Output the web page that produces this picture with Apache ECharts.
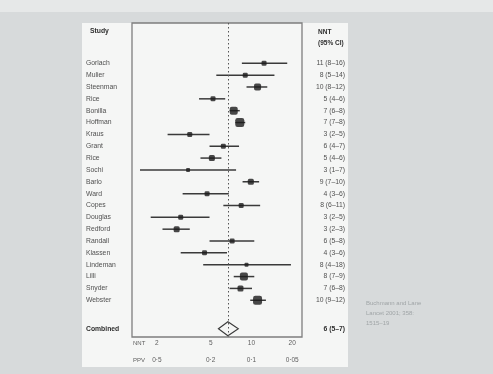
<!DOCTYPE html>
<html>
<head>
<meta charset="utf-8">
<script src="https://cdn.jsdelivr.net/npm/echarts@6/dist/echarts.min.js"></script>
<style>
    html, body { margin: 0; padding: 0; background: #d7dadb; }
    #band { position: absolute; left: 0; top: 0; width: 493px; height: 12px; background: #e6e8e8; }
    #panel { position: absolute; left: 82px; top: 23px; width: 266px; height: 344px; background: #f5f6f5; }
    #chart { position: absolute; left: 0; top: 0; width: 493px; height: 374px; }
</style>
</head>
<body>
<div id="band"></div>
<div id="panel"></div>
<div id="chart"></div>
<script>
// studies, top to bottom
const studies = ['Gorlach', 'Mulier', 'Steenman', 'Rice', 'Bonilla', 'Hoffman', 'Kraus', 'Grant', 'Rice', 'Sochi',
    'Barlo', 'Ward', 'Copes', 'Douglas', 'Redford', 'Randall', 'Klassen', 'Lindeman', 'Lilli', 'Snyder', 'Webster'];
// NNT point estimate and 95% CI
const nnt = [12.4, 9.0, 11.1, 5.2, 7.4, 8.2, 3.5, 6.2, 5.1, 3.4, 9.9, 4.7, 8.4, 3.0, 2.8, 7.2, 4.5, 9.2, 8.8, 8.3, 11.1];
const ciLow = [8.5, 5.5, 9.2, 4.1, 6.9, 7.6, 2.4, 4.9, 4.2, 1.5, 8.6, 3.1, 6.2, 1.8, 2.2, 4.9, 3.0, 4.4, 7.4, 6.9, 9.8];
const ciHigh = [18.4, 14.8, 13.1, 6.4, 8.2, 9.0, 4.9, 8.1, 6.0, 7.7, 11.4, 6.8, 11.6, 4.9, 3.5, 10.5, 6.6, 19.6, 10.5, 10.1, 12.8];
// study weight -> marker size
const weights = [5, 5, 7, 5, 8, 9, 5, 5, 6, 4, 6, 5, 5, 5, 6, 5, 5, 4, 8, 6, 9];
const nntLabels = ['11 (8–16)', '8 (5–14)', '10 (8–12)', '5 (4–6)', '7 (6–8)', '7 (7–8)', '3 (2–5)', '6 (4–7)', '5 (4–6)', '3 (1–7)',
    '9 (7–10)', '4 (3–6)', '8 (6–11)', '3 (2–5)', '3 (2–3)', '6 (5–8)', '4 (3–6)', '8 (4–18)', '8 (7–9)', '7 (6–8)', '10 (9–12)'];

const combinedNnt = 6.7;
const combinedLow = 5.7;
const combinedHigh = 8.0;
const combinedLabel = '6 (5–7)';

const nntTicks = [2, 5, 10, 20];
const ppvTicks = ['0·5', '0·2', '0·1', '0·05'];

const combinedRow = 22.4;
const rows = studies.map((s, i) => i).concat([combinedRow]);

const FONT = 'Liberation Sans';
const lg = v => Math.log10(v);

function rowText(v, names, last) {
    const i = Math.round(v);
    if (v > studies.length) return '{b|' + last + '}';
    return '{n|' + names[i] + '}';
}

const labelRich = {
    n: { fontSize: 6.8, color: '#505050', fontFamily: FONT },
    b: { fontSize: 6.8, color: '#2e2e2e', fontWeight: 'bold', fontFamily: FONT }
};

const chart = echarts.init(document.getElementById('chart'));

const option = {
    backgroundColor: 'transparent',
    animation: false,
    grid: {
        left: 132,
        right: 191,
        top: 23,
        bottom: 37,
        show: true,
        borderColor: '#7e7e7e',
        borderWidth: 1.3,
        backgroundColor: 'transparent'
    },
    xAxis: {
        type: 'value',
        min: 0.117,
        max: 1.374,
        axisLine: { show: false },
        axisTick: { show: false },
        splitLine: { show: false },
        axisLabel: {
            customValues: nntTicks.map(lg),
            margin: -2,
            formatter: function (v) {
                let k = 0;
                nntTicks.forEach((t, i) => { if (Math.abs(lg(t) - v) < 0.01) k = i; });
                return '{a|' + nntTicks[k] + '}\n{a|' + ppvTicks[k] + '}';
            },
            rich: {
                a: { fontSize: 6.5, color: '#5e5e5e', fontFamily: FONT, lineHeight: 17 }
            }
        }
    },
    yAxis: [
        {
            type: 'value',
            inverse: true,
            min: -3.4,
            max: 23.1,
            position: 'left',
            axisLine: { show: false },
            axisTick: { show: false },
            splitLine: { show: false },
            axisLabel: {
                customValues: rows,
                align: 'left',
                margin: 46,
                formatter: v => rowText(v, studies, 'Combined'),
                rich: labelRich
            }
        },
        {
            type: 'value',
            inverse: true,
            min: -3.4,
            max: 23.1,
            position: 'right',
            axisLine: { show: false },
            axisTick: { show: false },
            splitLine: { show: false },
            axisLabel: {
                customValues: rows,
                align: 'right',
                margin: 43,
                formatter: v => rowText(v, nntLabels, combinedLabel),
                rich: labelRich
            }
        }
    ],
    graphic: [
        { type: 'text', left: 90, top: 28, style: { text: 'Study', font: 'bold 6.8px ' + FONT, fill: '#2e2e2e' } },
        { type: 'text', left: 318, top: 27, style: { text: 'NNT\n(95% CI)', font: 'bold 6.5px ' + FONT, fill: '#2e2e2e', align: 'center', lineHeight: 11, x: 14 } },
        { type: 'text', left: 133, top: 340, style: { text: 'NNT', font: '6px ' + FONT, fill: '#5e5e5e' } },
        { type: 'text', left: 133, top: 357, style: { text: 'PPV', font: '6px ' + FONT, fill: '#5e5e5e' } },
        { type: 'text', left: 366, top: 298, style: { text: 'Buchmann and Lane\nLancet 2001; 358:\n1515–19', font: '6px ' + FONT, fill: '#a0a5a7', lineHeight: 10 } }
    ],
    series: [
        {
            // confidence intervals
            type: 'custom',
            renderItem: function (params, api) {
                const y = api.value(2);
                const p1 = api.coord([api.value(0), y]);
                const p2 = api.coord([api.value(1), y]);
                return {
                    type: 'line',
                    shape: { x1: p1[0], y1: p1[1], x2: p2[0], y2: p2[1] },
                    style: { stroke: '#3a3a3a', lineWidth: 1.5 }
                };
            },
            encode: { x: [0, 1], y: 2 },
            data: studies.map((s, i) => [lg(ciLow[i]), lg(ciHigh[i]), i]),
            z: 2
        },
        {
            type: 'scatter',
            symbol: 'roundRect',
            symbolSize: function (val, params) { return weights[params.dataIndex]; },
            itemStyle: { color: '#1c1c1c' },
            data: studies.map((s, i) => [lg(nnt[i]), i]),
            z: 3,
            markLine: {
                silent: true,
                symbol: 'none',
                label: { show: false },
                lineStyle: { color: '#555', type: [1.5, 2.5], width: 1 },
                data: [{ xAxis: lg(combinedNnt) }]
            }
        },
        {
            // pooled estimate diamond
            type: 'custom',
            renderItem: function (params, api) {
                const y = api.value(3);
                const l = api.coord([api.value(0), y]);
                const r = api.coord([api.value(1), y]);
                const c = api.coord([api.value(2), y]);
                const h = 7;
                return {
                    type: 'polygon',
                    shape: { points: [[l[0], l[1]], [c[0], c[1] - h], [r[0], r[1]], [c[0], c[1] + h]] },
                    style: { fill: 'none', stroke: '#3a3a3a', lineWidth: 1.1 }
                };
            },
            encode: { x: [0, 1, 2], y: 3 },
            data: [[lg(combinedLow), lg(combinedHigh), lg(combinedNnt), combinedRow]],
            z: 4
        }
    ]
};

chart.setOption(option);
</script>
</body>
</html>
